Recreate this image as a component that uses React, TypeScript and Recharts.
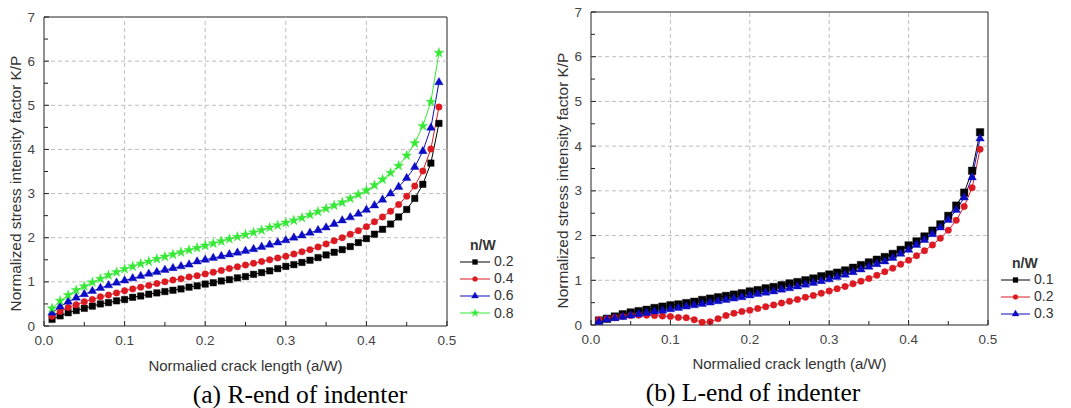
import React from 'react';
import { LineChart, Line, XAxis, YAxis, ReferenceLine, ReferenceArea, Legend, Label, Symbols } from 'recharts';

// ---------- data ----------
const crackLength = [
  0.01, 0.02, 0.03, 0.04, 0.05, 0.06, 0.07, 0.08, 0.09, 0.1,
  0.11, 0.12, 0.13, 0.14, 0.15, 0.16, 0.17, 0.18, 0.19, 0.2,
  0.21, 0.22, 0.23, 0.24, 0.25, 0.26, 0.27, 0.28, 0.29, 0.3,
  0.31, 0.32, 0.33, 0.34, 0.35, 0.36, 0.37, 0.38, 0.39, 0.4,
  0.41, 0.42, 0.43, 0.44, 0.45, 0.46, 0.47, 0.48, 0.49,
];

// (a) R-end of indenter
const rEnd02 = [
  0.15, 0.23, 0.30, 0.35, 0.40, 0.45, 0.50, 0.53, 0.57, 0.60,
  0.65, 0.68, 0.72, 0.75, 0.78, 0.81, 0.84, 0.88, 0.91, 0.95,
  0.98, 1.02, 1.05, 1.09, 1.12, 1.17, 1.21, 1.25, 1.30, 1.35,
  1.39, 1.44, 1.49, 1.55, 1.61, 1.67, 1.73, 1.80, 1.89, 1.98,
  2.08, 2.19, 2.31, 2.47, 2.64, 2.89, 3.21, 3.69, 4.59,
];
const rEnd04 = [
  0.22, 0.33, 0.42, 0.48, 0.55, 0.60, 0.66, 0.70, 0.75, 0.80,
  0.84, 0.88, 0.92, 0.96, 1.00, 1.04, 1.07, 1.11, 1.14, 1.18,
  1.22, 1.26, 1.30, 1.34, 1.38, 1.42, 1.46, 1.50, 1.54, 1.58,
  1.63, 1.68, 1.73, 1.79, 1.86, 1.93, 2.00, 2.08, 2.16, 2.25,
  2.36, 2.47, 2.60, 2.75, 2.94, 3.17, 3.51, 4.01, 4.96,
];
const rEnd06 = [
  0.30, 0.44, 0.55, 0.64, 0.72, 0.79, 0.86, 0.92, 0.98, 1.03,
  1.08, 1.13, 1.18, 1.22, 1.27, 1.31, 1.35, 1.39, 1.46, 1.50,
  1.54, 1.58, 1.62, 1.66, 1.70, 1.74, 1.79, 1.84, 1.89, 1.94,
  2.00, 2.05, 2.11, 2.17, 2.23, 2.31, 2.39, 2.46, 2.54, 2.63,
  2.73, 2.86, 3.00, 3.15, 3.35, 3.60, 3.96, 4.49, 5.52,
];
const rEnd08 = [
  0.40, 0.57, 0.70, 0.81, 0.90, 0.99, 1.07, 1.15, 1.22, 1.29,
  1.35, 1.41, 1.46, 1.52, 1.57, 1.62, 1.67, 1.72, 1.77, 1.82,
  1.87, 1.92, 1.97, 2.02, 2.07, 2.12, 2.17, 2.23, 2.28, 2.34,
  2.39, 2.45, 2.52, 2.59, 2.66, 2.73, 2.80, 2.89, 2.98, 3.07,
  3.19, 3.32, 3.47, 3.63, 3.86, 4.14, 4.53, 5.08, 6.19,
];

// (b) L-end of indenter
const lEnd01 = [
  0.10, 0.14, 0.19, 0.24, 0.28, 0.31, 0.34, 0.38, 0.41, 0.44,
  0.46, 0.49, 0.52, 0.56, 0.59, 0.62, 0.65, 0.68, 0.71, 0.75,
  0.78, 0.82, 0.85, 0.89, 0.93, 0.96, 1.00, 1.04, 1.09, 1.13,
  1.17, 1.22, 1.28, 1.34, 1.40, 1.46, 1.52, 1.59, 1.68, 1.78,
  1.87, 1.98, 2.11, 2.25, 2.44, 2.67, 2.96, 3.45, 4.31,
];
const lEnd02 = [
  0.12, 0.14, 0.17, 0.19, 0.21, 0.22, 0.22, 0.21, 0.20, 0.19,
  0.17, 0.16, 0.12, 0.06, 0.07, 0.14, 0.21, 0.26, 0.30, 0.33,
  0.37, 0.41, 0.45, 0.49, 0.53, 0.57, 0.62, 0.66, 0.71, 0.76,
  0.81, 0.86, 0.92, 0.98, 1.04, 1.11, 1.19, 1.27, 1.36, 1.45,
  1.55, 1.66, 1.79, 1.94, 2.12, 2.34, 2.65, 3.07, 3.93,
];
const lEnd03 = [
  0.07, 0.12, 0.15, 0.18, 0.21, 0.24, 0.27, 0.30, 0.32, 0.35,
  0.38, 0.41, 0.44, 0.47, 0.50, 0.53, 0.56, 0.59, 0.62, 0.66,
  0.69, 0.72, 0.75, 0.79, 0.82, 0.86, 0.90, 0.94, 0.98, 1.02,
  1.07, 1.12, 1.18, 1.24, 1.30, 1.36, 1.42, 1.50, 1.59, 1.68,
  1.79, 1.90, 2.03, 2.18, 2.35, 2.57, 2.85, 3.30, 4.17,
];

const xTicks = [0, 0.05, 0.1, 0.15, 0.2, 0.25, 0.3, 0.35, 0.4, 0.45, 0.5];
const yTicks = [0, 0.5, 1, 1.5, 2, 2.5, 3, 3.5, 4, 4.5, 5, 5.5, 6, 6.5, 7];
const xGrid = [0.1, 0.2, 0.3, 0.4];
const yGrid = [1, 2, 3, 4, 5, 6];

const leftLabels = ['0.2', '0.4', '0.6', '0.8'];
const rightLabels = ['0.1', '0.2', '0.3'];

// ---------- styles ----------
const SANS = '"Liberation Sans", Arial, sans-serif';
const SERIF = '"Liberation Serif", "Times New Roman", serif';
const BLACK = '#000000';
const RED = '#dc1a22';
const BLUE = '#0c0cc4';
const GREEN = '#35e835';

type Series = { key: string; label: string; color: string; shape: any; size: number; legendSize: number };

const leftSeries: Series[] = [
  { key: 's1', label: leftLabels[0], color: BLACK, shape: 'square', size: 6.5, legendSize: 5 },
  { key: 's2', label: leftLabels[1], color: RED, shape: 'circle', size: 6.5, legendSize: 5 },
  { key: 's3', label: leftLabels[2], color: BLUE, shape: 'triangle', size: 8.5, legendSize: 7 },
  { key: 's4', label: leftLabels[3], color: GREEN, shape: 'star', size: 10, legendSize: 8 },
];
const rightSeries: Series[] = [
  { key: 's1', label: rightLabels[0], color: BLACK, shape: 'square', size: 7.5, legendSize: 5 },
  { key: 's2', label: rightLabels[1], color: RED, shape: 'circle', size: 6.5, legendSize: 5 },
  { key: 's3', label: rightLabels[2], color: BLUE, shape: 'triangle', size: 8.5, legendSize: 7 },
];

const leftData = crackLength.map((x, i) => ({ x, s1: rEnd02[i], s2: rEnd04[i], s3: rEnd06[i], s4: rEnd08[i] }));
const rightData = crackLength.map((x, i) => ({ x, s1: lEnd01[i], s2: lEnd02[i], s3: lEnd03[i] }));

const isMajor = (v: number, mult: number) => Math.abs(v * mult - Math.round(v * mult)) < 1e-6;

const makeDot = (s: Series) => (props: any) => {
  const { cx, cy, index } = props;
  if (cx == null || cy == null) return <g key={`d-${s.key}-${index}`} />;
  return (
    <Symbols
      key={`d-${s.key}-${index}`}
      cx={cx}
      cy={cy}
      type={s.shape}
      size={s.size}
      sizeType="diameter"
      fill={s.color}
      stroke={s.color}
      strokeWidth={0.4}
    />
  );
};

const XTick = (props: any) => {
  const { x, y, payload } = props;
  const v = payload.value as number;
  const major = isMajor(v, 10);
  return (
    <g>
      <line x1={x} x2={x} y1={y} y2={y - (major ? 5 : 4)} stroke="#222" strokeWidth={1} />
      {major && (
        <text x={x} y={y + 14} textAnchor="middle" dominantBaseline="central" fontFamily={SANS} fontSize={13.5} fill="#444">
          {v.toFixed(1)}
        </text>
      )}
    </g>
  );
};

const YTick = (props: any) => {
  const { x, y, payload } = props;
  const v = payload.value as number;
  const major = isMajor(v, 1);
  return (
    <g>
      <line x1={x} x2={x + (major ? 5 : 4)} y1={y} y2={y} stroke="#222" strokeWidth={1} />
      {major && (
        <text x={x - 9} y={y} textAnchor="end" dominantBaseline="central" fontFamily={SANS} fontSize={13.5} fill="#444">
          {String(v)}
        </text>
      )}
    </g>
  );
};

const yTitle = (dx: number) => (p: any) => {
  const vb = p.viewBox || {};
  const cx = (vb.x ?? 0) + dx;
  const cy = (vb.y ?? 0) + (vb.height ?? 0) / 2 + 12;
  return (
    <text
      x={cx}
      y={cy}
      transform={`rotate(-90, ${cx}, ${cy})`}
      textAnchor="middle"
      dominantBaseline="central"
      fontFamily={SANS}
      fontSize={15.4}
      fill="#333"
    >
      Normalized stress intensity factor K/P
    </text>
  );
};

const xTitle = (dy: number) => (p: any) => {
  const vb = p.viewBox || {};
  const cx = (vb.x ?? 0) + (vb.width ?? 0) / 2;
  const cy = (vb.y ?? 0) + dy;
  return (
    <text x={cx} y={cy} textAnchor="middle" dominantBaseline="central" fontFamily={SANS} fontSize={15} fill="#333">
      Normalied crack length (a/W)
    </text>
  );
};

const LegendBox = ({ series, titleIndent, lineW, rowH }: { series: Series[]; titleIndent: number; lineW: number; rowH: number }) => (
  <div style={{ fontFamily: SANS, color: '#333', whiteSpace: 'nowrap' }}>
    <div style={{ fontWeight: 'bold', fontSize: 14, height: 16, lineHeight: '16px', paddingLeft: titleIndent }}>n/W</div>
    {series.map((s) => (
      <div key={s.key} style={{ display: 'flex', alignItems: 'center', height: rowH }}>
        <svg width={lineW} height={10} style={{ display: 'block' }}>
          <line x1={0} x2={lineW} y1={5} y2={5} stroke={s.color} strokeWidth={1} />
          <Symbols cx={lineW / 2} cy={5} type={s.shape} size={s.legendSize} sizeType="diameter" fill={s.color} stroke={s.color} strokeWidth={0.3} />
        </svg>
        <span style={{ marginLeft: 4, fontSize: 14, lineHeight: `${rowH}px` }}>{s.label}</span>
      </div>
    ))}
  </div>
);

type PanelProps = {
  data: any[];
  series: Series[];
  width: number;
  yAxisWidth: number;
  margin: { top: number; right: number; bottom: number; left: number };
  yTitleDx: number;
  xTitleDy: number;
  legendPos: { left: number; top: number };
  legendIndent: number;
  legendLineW: number;
  legendRowH: number;
};

const Panel = (p: PanelProps) => (
  <LineChart width={p.width} height={408} data={p.data} margin={p.margin}>
    {xGrid.map((v) => (
      <ReferenceLine key={`gx${v}`} x={v} stroke="#bdbdbd" strokeDasharray="4 3" strokeWidth={1} />
    ))}
    {yGrid.map((v) => (
      <ReferenceLine key={`gy${v}`} y={v} stroke="#bdbdbd" strokeDasharray="4 3" strokeWidth={1} />
    ))}
    <XAxis
      dataKey="x"
      type="number"
      domain={[0, 0.5]}
      ticks={xTicks}
      interval={0}
      tickSize={0}
      tickMargin={0}
      tickLine={false}
      axisLine={false}
      height={40}
      tick={<XTick />}
    >
      <Label content={xTitle(p.xTitleDy)} />
    </XAxis>
    <YAxis
      type="number"
      domain={[0, 7]}
      ticks={yTicks}
      interval={0}
      tickSize={0}
      tickMargin={0}
      tickLine={false}
      axisLine={false}
      width={p.yAxisWidth}
      tick={<YTick />}
    >
      <Label content={yTitle(p.yTitleDx)} />
    </YAxis>
    <ReferenceArea x1={0} x2={0.5} y1={0} y2={7} fill="none" stroke="#222" strokeWidth={1} />
    {p.series.map((s) => (
      <Line
        key={s.key}
        dataKey={s.key}
        type="linear"
        stroke={s.color}
        strokeWidth={1}
        dot={makeDot(s)}
        activeDot={false}
        isAnimationActive={false}
      />
    ))}
    <Legend
      layout="vertical"
      align="center"
      verticalAlign="middle"
      wrapperStyle={{ left: p.legendPos.left, top: p.legendPos.top, width: 'auto', height: 'auto' }}
      content={() => <LegendBox series={p.series} titleIndent={p.legendIndent} lineW={p.legendLineW} rowH={p.legendRowH} />}
    />
  </LineChart>
);

export default function App() {
  return (
    <div style={{ position: 'absolute', left: 0, top: 0, width: 1071, height: 408, background: '#fff', overflow: 'hidden' }}>
      <div style={{ position: 'absolute', left: 0, top: 0 }}>
        <Panel
          data={leftData}
          series={leftSeries}
          width={540}
          yAxisWidth={44}
          margin={{ top: 17, right: 93, bottom: 42, left: 0 }}
          yTitleDx={15}
          xTitleDy={39}
          legendPos={{ left: 460, top: 237 }}
          legendIndent={10}
          legendLineW={30}
          legendRowH={17.2}
        />
      </div>
      <div style={{ position: 'absolute', left: 530, top: 0 }}>
        <Panel
          data={rightData}
          series={rightSeries}
          width={541}
          yAxisWidth={61}
          margin={{ top: 12, right: 83, bottom: 43, left: 0 }}
          yTitleDx={32}
          xTitleDy={38}
          legendPos={{ left: 471, top: 255 }}
          legendIndent={11}
          legendLineW={29}
          legendRowH={17.2}
        />
      </div>
      <div style={{ position: 'absolute', left: 150, top: 380, width: 300, textAlign: 'center', fontFamily: SERIF, fontSize: 25.5, lineHeight: '30px', color: '#000' }}>
        (a) R-end of indenter
      </div>
      <div style={{ position: 'absolute', left: 603, top: 378, width: 300, textAlign: 'center', fontFamily: SERIF, fontSize: 25.5, lineHeight: '30px', color: '#000' }}>
        (b) L-end of indenter
      </div>
    </div>
  );
}
